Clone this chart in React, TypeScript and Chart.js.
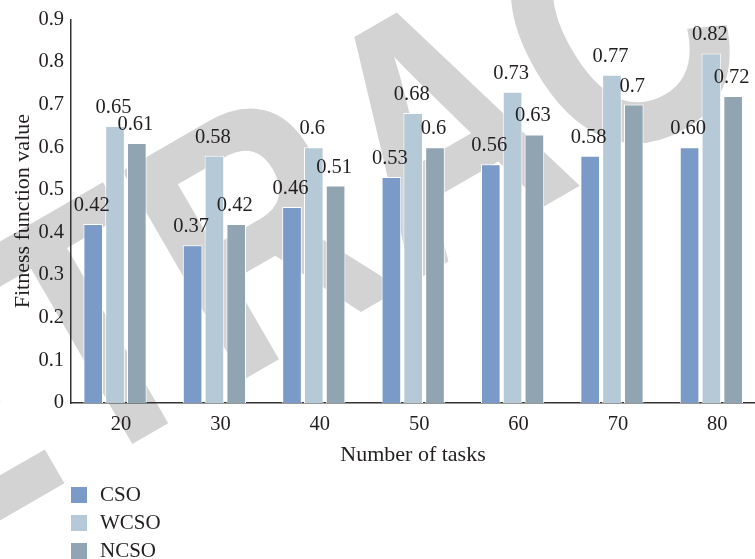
import { useEffect, useRef } from 'react';
import { Chart, registerables } from 'chart.js';

Chart.register(...registerables);

const categories = [20, 30, 40, 50, 60, 70, 80];
const csoValues = [0.42, 0.37, 0.46, 0.53, 0.56, 0.58, 0.6];
const wcsoValues = [0.65, 0.58, 0.6, 0.68, 0.73, 0.77, 0.82];
const ncsoValues = [0.61, 0.42, 0.51, 0.6, 0.63, 0.7, 0.72];
const csoLabels = ['0.42', '0.37', '0.46', '0.53', '0.56', '0.58', '0.60'];
const wcsoLabels = ['0.65', '0.58', '0.6', '0.68', '0.73', '0.77', '0.82'];
const ncsoLabels = ['0.61', '0.42', '0.51', '0.6', '0.63', '0.7', '0.72'];
const yTicks = [0, 0.1, 0.2, 0.3, 0.4, 0.5, 0.6, 0.7, 0.8, 0.9];
const yTickLabels = ['0', '0.1', '0.2', '0.3', '0.4', '0.5', '0.6', '0.7', '0.8', '0.9'];
const seriesNames = ['CSO', 'WCSO', 'NCSO'];
const seriesColors = ['#7a9ac8', '#b6c9d7', '#91a4b2'];
const seriesValues = [csoValues, wcsoValues, ncsoValues];
const seriesLabels = [csoLabels, wcsoLabels, ncsoLabels];
const xTitle = 'Number of tasks';
const yTitle = 'Fitness function value';
const watermarkText = 'RETRACTED';

const SERIF = '"Liberation Serif", "Times New Roman", serif';
const TEXT = '#231f20';

const watermarkPlugin = {
  id: 'watermark',
  beforeDraw(chart: any) {
    const ctx = chart.ctx;
    ctx.save();
    ctx.translate(448, 150);
    ctx.rotate((-30 * Math.PI) / 180);
    ctx.scale(0.82, 1);
    ctx.font = 'bold 351px "Liberation Sans", Arial, sans-serif';
    ctx.fillStyle = '#d3d3d3';
    ctx.textAlign = 'center';
    ctx.textBaseline = 'middle';
    ctx.fillText(watermarkText, 0, 0);
    ctx.restore();
  },
};

const valueLabelPlugin = {
  id: 'valueLabels',
  afterDatasetsDraw(chart: any) {
    const ctx = chart.ctx;
    ctx.save();
    ctx.font = `20.5px ${SERIF}`;
    ctx.fillStyle = TEXT;
    ctx.textAlign = 'center';
    ctx.textBaseline = 'alphabetic';
    chart.data.datasets.forEach((_ds: any, i: number) => {
      const meta = chart.getDatasetMeta(i);
      meta.data.forEach((bar: any, j: number) => {
        ctx.fillText(seriesLabels[i][j], bar.x - 1.5, bar.y - 13);
      });
    });
    ctx.restore();
  },
};

const legendPlugin = {
  id: 'stackedLegend',
  afterDraw(chart: any) {
    const ctx = chart.ctx;
    ctx.save();
    ctx.font = `21px ${SERIF}`;
    ctx.textAlign = 'left';
    ctx.textBaseline = 'middle';
    chart.data.datasets.forEach((ds: any, i: number) => {
      const top = 487 + i * 28;
      ctx.fillStyle = ds.backgroundColor;
      ctx.fillRect(71, top, 16, 16);
      ctx.fillStyle = TEXT;
      ctx.fillText(ds.label, 100, top + 8.5);
    });
    ctx.restore();
  },
};

export default function App() {
  const canvasRef = useRef<HTMLCanvasElement | null>(null);

  useEffect(() => {
    if (!canvasRef.current) return;
    const chart = new Chart(canvasRef.current, {
      type: 'bar',
      data: {
        datasets: seriesNames.map((name, i) => ({
          label: name,
          data: categories.map((c, j) => ({ x: c, y: seriesValues[i][j] })),
          backgroundColor: seriesColors[i],
          borderColor: '#ffffff',
          borderWidth: 1,
          barPercentage: 0.9,
          categoryPercentage: 0.658,
        })),
      },
      options: {
        responsive: false,
        animation: false,
        layout: { padding: { top: 16, right: 0, bottom: 89, left: 0 } },
        plugins: {
          legend: { display: false },
          tooltip: { enabled: false },
        },
        scales: {
          x: {
            type: 'linear',
            offset: false,
            min: 15.57,
            max: 84.39,
            afterBuildTicks: (s: any) => {
              s.ticks = categories.map((v) => ({ value: v }));
            },
            afterFit: (s: any) => {
              s.height = 67;
            },
            ticks: {
              font: { family: SERIF, size: 20.5 },
              color: TEXT,
              padding: 9,
              labelOffset: 6,
              maxRotation: 0,
              autoSkip: false,
              callback: (v: any) => String(v),
            },
            grid: { display: false, drawTicks: false },
            border: { display: true, color: '#333333', width: 1.5 },
            title: {
              display: true,
              text: xTitle,
              color: TEXT,
              font: { family: SERIF, size: 22 },
              padding: { top: 0, bottom: 2 },
            },
          },
          y: {
            type: 'linear',
            min: 0,
            max: 0.9,
            afterBuildTicks: (s: any) => {
              s.ticks = yTicks.map((v) => ({ value: v }));
            },
            afterFit: (s: any) => {
              s.width = 71;
            },
            ticks: {
              font: { family: SERIF, size: 20.5 },
              color: TEXT,
              padding: 7,
              autoSkip: false,
              callback: (_v: any, i: number) => yTickLabels[i],
            },
            grid: { display: false, drawTicks: false },
            border: { display: true, color: '#333333', width: 1.5 },
            title: {
              display: true,
              text: yTitle,
              color: TEXT,
              font: { family: SERIF, size: 22 },
              padding: { top: 10, bottom: 0 },
            },
          },
        },
      } as any,
      plugins: [watermarkPlugin, valueLabelPlugin, legendPlugin],
    });
    return () => chart.destroy();
  }, []);

  return (
    <div style={{ position: 'fixed', left: 0, top: 0, width: 755, height: 559, background: '#ffffff' }}>
      <canvas ref={canvasRef} width={755} height={559} />
    </div>
  );
}
